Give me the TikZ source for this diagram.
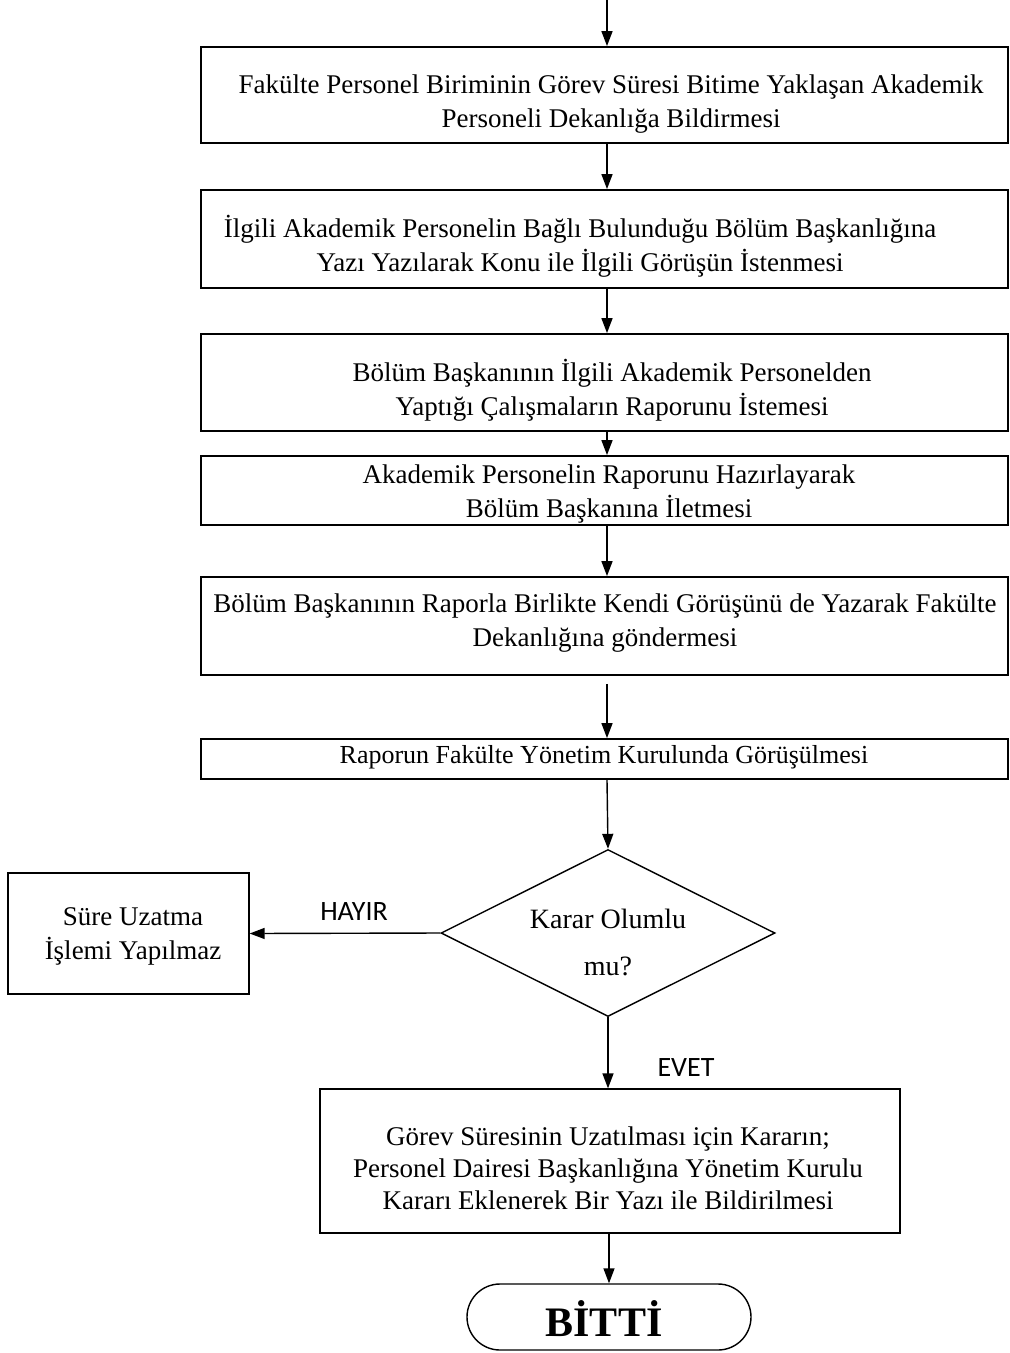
\documentclass[tikz,border=0pt]{standalone}
\usepackage{fontspec}
\setmainfont{Liberation Serif}
\newfontfamily\lblfont{Carlito}
\usetikzlibrary{arrows.meta,shapes.geometric,shapes.misc}
\begin{document}
\begin{tikzpicture}[x=1pt,y=-1pt,
  boxst/.style={draw,line width=1.8pt,inner sep=0pt},
  thinbox/.style={draw,line width=1.3pt,inner sep=0pt},
  txt/.style={align=center,font=\fontsize{27}{34}\selectfont,inner sep=0pt},
  lbl/.style={font=\lblfont\fontsize{28}{30}\selectfont,inner sep=0pt},
  arr/.style={line width=1.4pt,-{Triangle[length=15pt,width=11pt]}}]
\useasboundingbox (0,0) rectangle (1010,1353);
\coordinate (top) at (607,0);
% boxes
\node[boxst,minimum width=807pt,minimum height=96pt] (b1) at (604.5,95) {};
\node[txt] (t1) at (611,104) {Fakülte Personel Biriminin Görev Süresi Bitime Yaklaşan Akademik\\Personeli Dekanlığa Bildirmesi};
\node[boxst,minimum width=807pt,minimum height=98pt] (b2) at (604.5,239) {};
\node[txt] (t2) at (580,246) {İlgili Akademik Personelin Bağlı Bulunduğu Bölüm Başkanlığına\\Yazı Yazılarak Konu ile İlgili Görüşün İstenmesi};
\node[boxst,minimum width=807pt,minimum height=97pt] (b3) at (604.5,382.5) {};
\node[txt] (t3) at (612,390) {Bölüm Başkanının İlgili Akademik Personelden\\Yaptığı Çalışmaların Raporunu İstemesi};
\node[boxst,minimum width=807pt,minimum height=69pt] (b4) at (604.5,490.5) {};
\node[txt] (t4) at (609,494) {Akademik Personelin Raporunu Hazırlayarak\\Bölüm Başkanına İletmesi};
\node[boxst,minimum width=807pt,minimum height=98pt] (b5) at (604.5,626) {};
\node[txt] (t5) at (605,623) {Bölüm Başkanının Raporla Birlikte Kendi Görüşünü de Yazarak Fakülte\\Dekanlığına göndermesi};
\node[boxst,minimum width=807pt,minimum height=40pt] (b6) at (604.5,759) {};
\node[txt,font=\fontsize{26}{34}\selectfont] (t6) at (604,757) {Raporun Fakülte Yönetim Kurulunda Görüşülmesi};
% decision
\node[diamond,draw,line width=1.4pt,minimum width=334pt,minimum height=167pt,inner sep=0pt] (dec) at (608,933) {};
\node[txt,font=\fontsize{28}{47}\selectfont] (tdec) at (608,942) {Karar Olumlu\\mu?};
% left box
\node[thinbox,minimum width=241pt,minimum height=121pt] (no) at (128.5,933.5) {};
\node[txt] (tno) at (133,936) {Süre Uzatma\\İşlemi Yapılmaz};
% final box
\node[thinbox,minimum width=580pt,minimum height=144pt] (fin) at (610,1161) {};
\node[txt,font=\fontsize{27}{32}\selectfont] (tfin) at (608,1168) {Görev Süresinin Uzatılması için Kararın;\\Personel Dairesi Başkanlığına Yönetim Kurulu\\Kararı Eklenerek Bir Yazı ile Bildirilmesi};
% end
\node[rounded rectangle,draw,line width=1.4pt,minimum width=284pt,minimum height=66pt,inner sep=0pt] (end) at (609,1317) {};
\node[txt,font=\fontsize{42}{46}\selectfont\bfseries] (tend) at (604,1319) {BİTTİ};
% labels
\node[lbl] (hayir) at (354,912) {HAYIR};
\node[lbl] (evet) at (686,1068) {EVET};
% connectors
\draw[arr] (top) -- (b1.north -| top);
\draw[arr] (b1.south -| top) -- (b2.north -| top);
\draw[arr] (b2.south -| top) -- (b3.north -| top);
\draw[arr] (b3.south -| top) -- (b4.north -| top);
\draw[arr] (b4.south -| top) -- (b5.north -| top);
\draw[arr] ([yshift=-8pt]b5.south -| top) -- (b6.north -| top);
\draw[arr] (b6.south -| top) -- (dec.north);
\draw[arr] (dec.west) -- (no.east);
\draw[arr] (dec.south) -- (fin.north -| dec.south);
\draw[arr] (fin.south -| end.north) -- (end.north);
\end{tikzpicture}
\end{document}
